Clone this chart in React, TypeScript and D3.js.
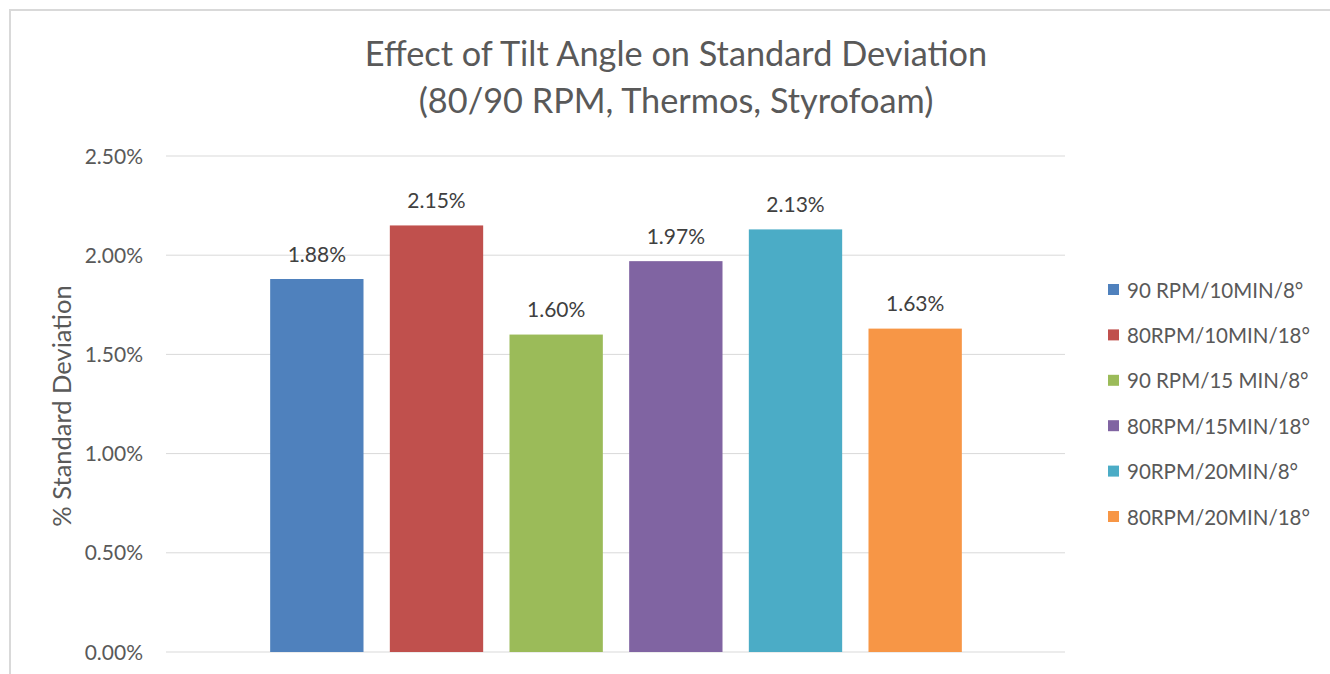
import React from "react";
import * as d3 from "d3";

const series = [
  "90 RPM/10MIN/8°",
  "80RPM/10MIN/18°",
  "90 RPM/15 MIN/8°",
  "80RPM/15MIN/18°",
  "90RPM/20MIN/8°",
  "80RPM/20MIN/18°",
];
const values = [0.0188, 0.0215, 0.016, 0.0197, 0.0213, 0.0163];
const colors = ["#4F81BD", "#C0504D", "#9BBB59", "#8064A2", "#4BACC6", "#F79646"];
const yTicks = [0, 0.005, 0.01, 0.015, 0.02, 0.025];
const titleLines = ["Effect of Tilt Angle on Standard Deviation", "(80/90 RPM, Thermos, Styrofoam)"];
const yAxisTitle = "% Standard Deviation";

const W = 1330;
const H = 674;
const FONT = "Lato, 'Open Sans', sans-serif";

export default function App() {
  const plotLeft = 166;
  const plotRight = 1065;
  const y = d3.scaleLinear().domain([0, 0.025]).range([652, 156]);
  const x = d3
    .scaleBand<string>()
    .domain(series)
    .range([257, 975])
    .paddingInner(0.22)
    .paddingOuter(0.11);
  const fmt = d3.format(".2%");

  return (
    <svg
      width={W}
      height={H}
      style={{ position: "absolute", left: 0, top: 0, background: "#fff" }}
      fontFamily={FONT}
    >
      <rect x={10} y={10} width={W + 10} height={H + 10} fill="#fff" stroke="#d9d9d9" strokeWidth={2} />
      {titleLines.map((t, i) => (
        <text key={i} x={676} y={66 + i * 47} textAnchor="middle" fontSize={34.3} fill="#595959">
          {t}
        </text>
      ))}
      {yTicks.map((t) => (
        <g key={t}>
          <line x1={plotLeft} x2={plotRight} y1={y(t)} y2={y(t)} stroke="#d9d9d9" strokeWidth={1} />
          <text x={143} y={y(t) + 7.5} textAnchor="end" fontSize={21} fill="#595959">
            {fmt(t)}
          </text>
        </g>
      ))}
      <text
        transform={`translate(71, 406) rotate(-90)`}
        textAnchor="middle"
        fontSize={25.5}
        fill="#595959"
      >
        {yAxisTitle}
      </text>
      {series.map((s, i) => (
        <g key={s}>
          <rect
            x={x(s)}
            y={y(values[i])}
            width={x.bandwidth()}
            height={y(0) - y(values[i])}
            fill={colors[i]}
          />
          <text
            x={(x(s) as number) + x.bandwidth() / 2}
            y={y(values[i]) - 17.5}
            textAnchor="middle"
            fontSize={21}
            fill="#404040"
          >
            {fmt(values[i])}
          </text>
        </g>
      ))}
      {series.map((s, i) => (
        <g key={"l" + s} transform={`translate(1108, ${290 + i * 45.4})`}>
          <rect x={0} y={-6} width={11} height={11} fill={colors[i]} />
          <text x={19} y={7.5} fontSize={20.5} fill="#595959">
            {s}
          </text>
        </g>
      ))}
    </svg>
  );
}
